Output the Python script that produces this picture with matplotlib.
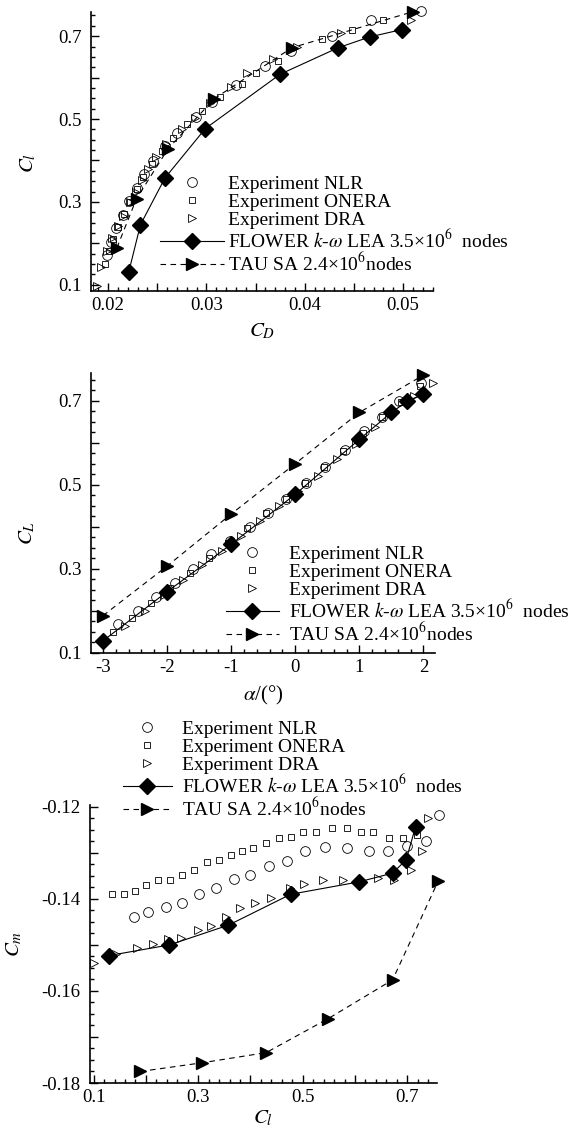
import matplotlib
matplotlib.use("Agg")
import matplotlib.pyplot as plt
from matplotlib.ticker import MultipleLocator, FuncFormatter

plt.rcParams['font.family'] = ['Liberation Serif', 'DejaVu Serif']
plt.rcParams['mathtext.fontset'] = 'stix'
plt.rcParams['axes.unicode_minus'] = False

# ---------------- Panel 1: CL vs CD ----------------
p1_nlr_cd = [0.0199, 0.0203, 0.0208, 0.0215, 0.0221, 0.0229, 0.0237, 0.0246, 0.0258, 0.0270,
             0.0289, 0.0306, 0.0330, 0.0360, 0.0386, 0.0428, 0.0467, 0.0518]
p1_nlr_cl = [0.172, 0.203, 0.236, 0.268, 0.301, 0.334, 0.367, 0.399, 0.434, 0.467,
             0.504, 0.541, 0.583, 0.627, 0.663, 0.700, 0.739, 0.760]
p1_onera_cd = [0.0197, 0.0201, 0.0205, 0.0210, 0.0216, 0.0222, 0.0229, 0.0236, 0.0245, 0.0255,
               0.0266, 0.0280, 0.0296, 0.0314, 0.0336, 0.0350, 0.0373, 0.0418, 0.0448, 0.0480]
p1_onera_cl = [0.150, 0.182, 0.210, 0.240, 0.270, 0.300, 0.330, 0.360, 0.392, 0.423,
               0.455, 0.488, 0.520, 0.552, 0.585, 0.611, 0.640, 0.692, 0.715, 0.738]
p1_dra_cd = [0.0189, 0.0193, 0.0199, 0.0204, 0.0210, 0.0215, 0.0222, 0.0228, 0.0235, 0.0241,
             0.0249, 0.0259, 0.0275, 0.0288, 0.0304, 0.0325, 0.0341, 0.0368, 0.0392, 0.0437, 0.0508]
p1_dra_cl = [0.098, 0.142, 0.182, 0.213, 0.242, 0.267, 0.299, 0.325, 0.354, 0.380,
             0.408, 0.439, 0.475, 0.503, 0.538, 0.577, 0.611, 0.644, 0.675, 0.707, 0.740]
p1_flower_cd = [0.0221, 0.0233, 0.0258, 0.0299, 0.0375, 0.0434, 0.0466, 0.0499]
p1_flower_cl = [0.130, 0.245, 0.358, 0.477, 0.608, 0.672, 0.698, 0.716]
p1_tau_cd = [0.0209, 0.0229, 0.0261, 0.0308, 0.0387, 0.0510]
p1_tau_cl = [0.189, 0.308, 0.428, 0.549, 0.672, 0.759]

# ---------------- Panel 2: CL vs alpha ----------------
p2_nlr_a = [-2.76, -2.46, -2.17, -1.88, -1.60, -1.31, -1.02, -0.71, -0.43, -0.14,
            0.17, 0.46, 0.77, 1.08, 1.36, 1.62, 1.96]
p2_nlr_cl = [0.168, 0.200, 0.232, 0.266, 0.300, 0.334, 0.366, 0.398, 0.433, 0.465,
             0.503, 0.541, 0.582, 0.628, 0.662, 0.700, 0.741]
p2_onera_a = [-2.85, -2.55, -2.25, -1.95, -1.65, -1.35, -1.05, -0.75, -0.45, -0.15,
              0.15, 0.45, 0.75, 1.05, 1.35, 1.65, 1.95]
p2_onera_cl = [0.150, 0.182, 0.218, 0.253, 0.290, 0.326, 0.362, 0.396, 0.432, 0.467,
               0.503, 0.541, 0.580, 0.622, 0.660, 0.698, 0.735]
p2_dra_a = [-2.95, -2.65, -2.35, -2.05, -1.75, -1.45, -1.15, -0.85, -0.55, -0.25,
            0.05, 0.35, 0.65, 0.95, 1.25, 1.55, 1.85, 2.15]
p2_dra_cl = [0.130, 0.163, 0.198, 0.236, 0.272, 0.308, 0.342, 0.378, 0.414, 0.448,
             0.484, 0.520, 0.560, 0.598, 0.638, 0.676, 0.712, 0.741]
p2_flower_a = [-3.0, -2.0, -1.0, 0.0, 1.0, 1.5, 1.75, 2.0]
p2_flower_cl = [0.128, 0.245, 0.358, 0.477, 0.608, 0.672, 0.699, 0.716]
p2_tau_a = [-3.0, -2.0, -1.0, 0.0, 1.0, 2.0]
p2_tau_cl = [0.188, 0.306, 0.430, 0.550, 0.672, 0.761]

# ---------------- Panel 3: Cm vs CL ----------------
p3_nlr_cl = [0.178, 0.204, 0.239, 0.270, 0.302, 0.334, 0.368, 0.399, 0.435, 0.470,
             0.505, 0.542, 0.584, 0.626, 0.663, 0.699, 0.735, 0.760]
p3_nlr_cm = [-0.1439, -0.1428, -0.1418, -0.1408, -0.1390, -0.1377, -0.1356, -0.1347, -0.1329, -0.1317,
             -0.1296, -0.1288, -0.1290, -0.1297, -0.1297, -0.1286, -0.1275, -0.1217]
p3_onera_cl = [0.135, 0.158, 0.179, 0.200, 0.223, 0.246, 0.269, 0.292, 0.316, 0.339, 0.362, 0.383,
               0.404, 0.429, 0.454, 0.478, 0.501, 0.525, 0.556, 0.584, 0.612, 0.635, 0.666, 0.692, 0.718]
p3_onera_cm = [-0.1389, -0.1389, -0.1382, -0.1369, -0.1358, -0.1358, -0.1347, -0.1337, -0.1319, -0.1315,
               -0.1304, -0.1296, -0.1290, -0.1279, -0.1267, -0.1265, -0.1255, -0.1255, -0.1247, -0.1247,
               -0.1255, -0.1255, -0.1267, -0.1267, -0.1262]
p3_dra_cl = [0.100, 0.142, 0.182, 0.213, 0.242, 0.267, 0.299, 0.325, 0.354, 0.380, 0.408,
             0.439, 0.475, 0.503, 0.538, 0.577, 0.644, 0.675, 0.707, 0.728, 0.740]
p3_dra_cm = [-0.1540, -0.1520, -0.1507, -0.1498, -0.1487, -0.1484, -0.1468, -0.1459, -0.1439, -0.1419, -0.1408,
             -0.1398, -0.1376, -0.1367, -0.1358, -0.1358, -0.1354, -0.1358, -0.1337, -0.1297, -0.1224]
p3_flower_cl = [0.130, 0.245, 0.358, 0.477, 0.608, 0.672, 0.698, 0.716]
p3_flower_cm = [-0.1523, -0.1500, -0.1457, -0.1390, -0.1363, -0.1344, -0.1315, -0.1243]
p3_tau_cl = [0.189, 0.308, 0.430, 0.549, 0.672, 0.759]
p3_tau_cm = [-0.1775, -0.1756, -0.1734, -0.1660, -0.1576, -0.1362]

labels = ['Experiment NLR', 'Experiment ONERA', 'Experiment DRA',
          'FLOWER $k$-$\\omega$ LEA 3.5×10$^6$  nodes', 'TAU SA 2.4×10$^6$nodes']

W, H = 576, 1130
fig = plt.figure(figsize=(W / 100, H / 100), dpi=100)


def px_axes(l, t, r, b):
    return fig.add_axes([l / W, 1 - b / H, (r - l) / W, (b - t) / H])


def style(ax):
    for s in ['top', 'right']:
        ax.spines[s].set_visible(False)
    for s in ['left', 'bottom']:
        ax.spines[s].set_linewidth(1.2)
    ax.tick_params(which='both', direction='in', labelsize=13.5, width=1.0)
    ax.tick_params(which='major', length=6)
    ax.tick_params(which='minor', length=3)
    ax.tick_params(axis='y', pad=7)
    ax.tick_params(axis='x', pad=4)


def draw(ax, data):
    (nx, ny), (ox, oy), (dx, dy), (fx, fy), (tx, ty) = data
    kw = dict(ls='none', mfc='none', mec='black', mew=0.6, clip_on=False)
    ax.plot(nx, ny, marker='o', ms=7, label=labels[0], **kw)
    ax.plot(ox, oy, marker='s', ms=5, label=labels[1], **kw)
    ax.plot(dx, dy, marker='>', ms=6, label=labels[2], **kw)
    ax.plot(fx, fy, color='black', lw=0.8, marker='D', ms=8, mfc='black', mec='black',
            label=labels[3], clip_on=False)
    ax.plot(tx, ty, color='black', lw=0.8, ls=(0, (5, 4)), marker='>', ms=9, mfc='black',
            mec='black', label=labels[4], clip_on=False)


# Panel 1
ax1 = px_axes(91, 11.7, 433, 291)
style(ax1)
draw(ax1, [(p1_nlr_cd, p1_nlr_cl), (p1_onera_cd, p1_onera_cl), (p1_dra_cd, p1_dra_cl),
           (p1_flower_cd, p1_flower_cl), (p1_tau_cd, p1_tau_cl)])
ax1.set_xlim(0.01827, 0.05305)
ax1.set_ylim(0.085, 0.759)
ax1.xaxis.set_major_locator(MultipleLocator(0.005))
ax1.xaxis.set_minor_locator(MultipleLocator(0.001))
ax1.xaxis.set_major_formatter(FuncFormatter(lambda v, p: f'{v:.2f}' if round(v * 1000) % 10 == 0 else ''))
ax1.yaxis.set_major_locator(MultipleLocator(0.1))
ax1.yaxis.set_minor_locator(MultipleLocator(0.025))
ax1.yaxis.set_major_formatter(FuncFormatter(lambda v, p: f'{v:.1f}' if round(v * 10) % 2 == 1 else ''))
ax1.set_xlabel('$C_D$', fontsize=15, labelpad=6)
ax1.set_ylabel('$C_l$', fontsize=15)
ax1.yaxis.set_label_coords(-0.155, 0.46)

# Panel 2
ax2 = px_axes(91, 373, 435, 653)
style(ax2)
draw(ax2, [(p2_nlr_a, p2_nlr_cl), (p2_onera_a, p2_onera_cl), (p2_dra_a, p2_dra_cl),
           (p2_flower_a, p2_flower_cl), (p2_tau_a, p2_tau_cl)])
ax2.set_xlim(-3.187, 2.18)
ax2.set_ylim(0.099, 0.766)
ax2.xaxis.set_major_locator(MultipleLocator(1))
ax2.xaxis.set_minor_locator(MultipleLocator(0.2))
ax2.xaxis.set_major_formatter(FuncFormatter(lambda v, p: f'{v:.0f}'))
ax2.yaxis.set_major_locator(MultipleLocator(0.1))
ax2.yaxis.set_minor_locator(MultipleLocator(0.025))
ax2.yaxis.set_major_formatter(FuncFormatter(lambda v, p: f'{v:.1f}' if round(v * 10) % 2 == 1 else ''))
ax2.set_xlabel('$\\alpha$/(°)', fontsize=15, labelpad=6)
ax2.set_ylabel('$C_L$', fontsize=15)
ax2.yaxis.set_label_coords(-0.155, 0.43)

# Panel 3
ax3 = px_axes(90, 805, 437, 1083)
style(ax3)
draw(ax3, [(p3_nlr_cl, p3_nlr_cm), (p3_onera_cl, p3_onera_cm), (p3_dra_cl, p3_dra_cm),
           (p3_flower_cl, p3_flower_cm), (p3_tau_cl, p3_tau_cm)])
ax3.set_xlim(0.093, 0.757)
ax3.set_ylim(-0.18, -0.1196)
ax3.xaxis.set_major_locator(MultipleLocator(0.1))
ax3.xaxis.set_minor_locator(MultipleLocator(0.02))
ax3.xaxis.set_major_formatter(FuncFormatter(lambda v, p: f'{v:.1f}' if round(v * 10) % 2 == 1 else ''))
ax3.yaxis.set_major_locator(MultipleLocator(0.01))
ax3.yaxis.set_minor_locator(MultipleLocator(0.0025))
ax3.yaxis.set_major_formatter(FuncFormatter(lambda v, p: f'{v:.2f}' if round(v * 100) % 2 == 0 else ''))
ax3.set_xlabel('$C_l$', fontsize=15, labelpad=2)
ax3.set_ylabel('$C_m$', fontsize=15)
ax3.yaxis.set_label_coords(-0.19, 0.5)


def add_legend(ax, left_px, top_px, hl, htp):
    h, l = ax.get_legend_handles_labels()
    fig.legend(h, l, loc='upper left', bbox_to_anchor=(left_px / W, 1 - top_px / H),
               bbox_transform=fig.transFigure, frameon=False, fontsize=14,
               handlelength=hl, handletextpad=htp, labelspacing=0.02,
               borderpad=0, borderaxespad=0, numpoints=1)


add_legend(ax1, 160, 175, 3.3, 0.2)
add_legend(ax2, 226, 545, 2.7, 0.55)
add_legend(ax3, 123, 720, 2.5, 0.55)

fig.savefig('out.png', dpi=100)
